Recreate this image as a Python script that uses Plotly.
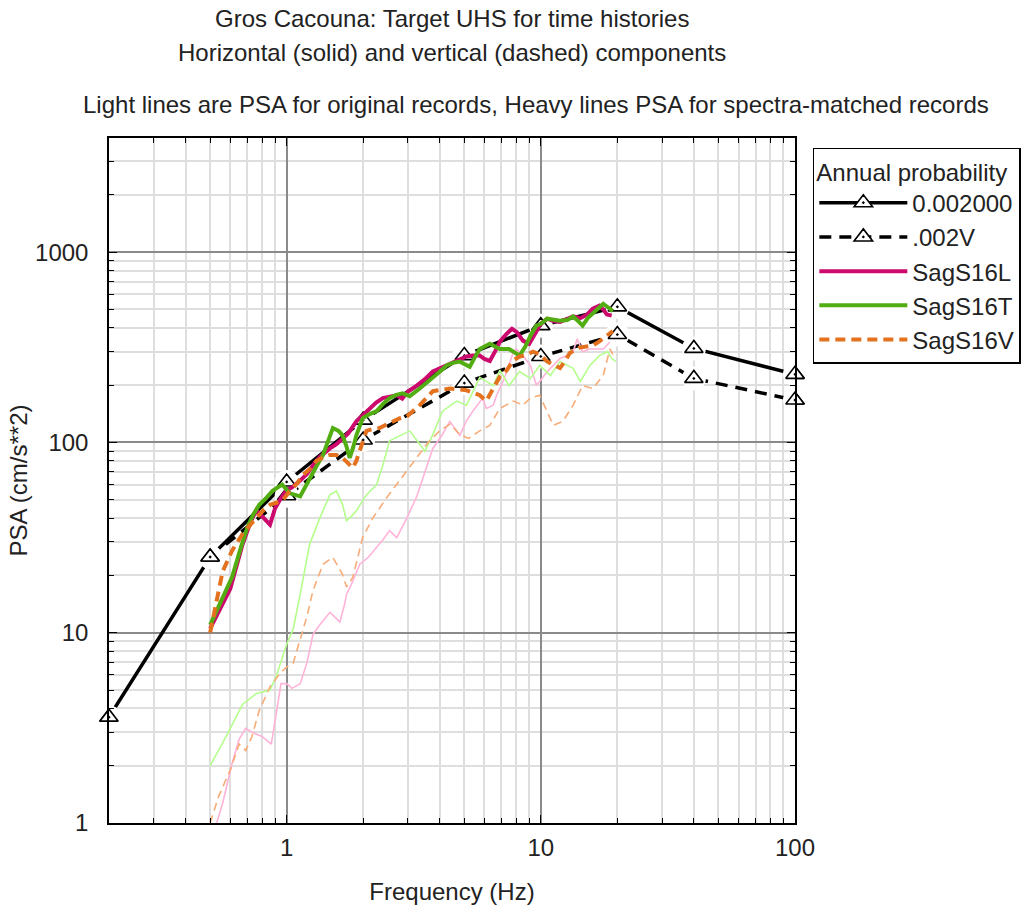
import plotly.graph_objects as go
import math

# ---------------- data ----------------
target_h_freq = [0.2, 0.5, 1, 2, 5, 10, 20, 40, 100]
target_h_psa = [3.6, 25, 62, 131, 286, 411, 516, 312, 228]
target_v_freq = [0.5, 1, 2, 5, 10, 20, 40, 100]
target_v_psa = [25, 52.5, 103, 205, 283, 369, 217, 167]

# heavy (spectra-matched) records
sL_freq = [0.5, 0.55, 0.6, 0.67, 0.72, 0.76, 0.8, 0.83, 0.86, 0.9, 0.95, 1.0, 1.05, 1.13, 1.2,
           1.27, 1.35, 1.48, 1.57, 1.66, 1.75, 1.88, 2.0, 2.12, 2.25, 2.39, 2.55, 2.71, 2.85, 3.0,
           3.25, 3.5, 3.76, 4.0, 4.26, 4.5, 4.8, 5.1, 5.4, 5.75, 6.0, 6.3, 6.6, 6.9, 7.3, 7.7,
           8.05, 8.5, 9.0, 9.5, 10.0, 10.6, 11.2, 11.9, 12.6, 13.4, 14.3, 15.2, 16.0, 17.0, 17.6,
           18.2, 19.0]
sL_psa = [10.5, 13.5, 17, 29, 38, 44, 41, 39, 37, 45, 51, 56, 58, 63, 68,
          76, 84, 93, 98, 105, 112, 129, 140, 151, 162, 171, 174, 177, 170, 185,
          199, 215, 236, 245, 254, 265, 276, 283, 286, 286, 275, 268, 300, 339, 370, 396,
          380, 343, 330, 370, 420, 447, 435, 430, 445, 460, 450, 470, 505, 523, 500,
          470, 464]

sT_freq = [0.5, 0.55, 0.61, 0.66, 0.7, 0.74, 0.78, 0.83, 0.88, 0.96, 1.03, 1.13, 1.23, 1.31,
           1.39, 1.45, 1.52, 1.6, 1.66, 1.72, 1.77, 1.83, 1.88, 1.99, 2.1, 2.26, 2.4, 2.54, 2.7,
           2.86, 3.05, 3.34, 3.55, 3.76, 4.0, 4.26, 4.5, 4.8, 5.25, 5.5, 5.75, 6.3, 6.9, 7.5,
           8.25, 8.7, 9.1, 9.6, 10.0, 10.6, 11.2, 11.9, 12.7, 13.4, 14.0, 14.6, 15.3, 16.0,
           16.8, 17.6, 18.3, 19.2]
sT_psa = [11, 14.5, 19.6, 28, 35.7, 42, 47, 51, 55.7, 60, 54, 52, 65, 75,
          86, 100, 119, 115, 109, 95, 83, 95, 109, 134, 140, 146, 160, 171, 178,
          181, 175, 192, 205, 217, 235, 254, 262, 266, 250, 280, 310, 330, 310, 310,
          286, 320, 364, 411, 420, 447, 440, 436, 440, 459, 435, 411, 450, 475,
          510, 535, 515, 490]

sV_freq = [0.5, 0.53, 0.56, 0.61, 0.67, 0.72, 0.76, 0.81, 0.86, 0.96, 1.03, 1.1, 1.16, 1.24,
           1.31, 1.4, 1.48, 1.57, 1.66, 1.74, 1.82, 1.88, 1.94, 2.0, 2.06, 2.2, 2.32, 2.46, 2.61,
           2.79, 2.97, 3.34, 3.76, 4.1, 4.38, 4.75, 5.1, 5.45, 5.75, 6.1, 6.5, 6.9, 7.35, 7.8,
           8.25, 8.7, 9.3, 9.9, 10.6, 11.2, 11.9, 12.5, 13.0, 14.2, 15.0, 16.0, 17.0, 18.2, 19.2]
sV_psa = [10, 15, 21, 27, 33, 37, 40, 44, 47, 49.4, 55.6, 61, 67.6, 73,
          80, 84, 86, 86, 83, 78, 73.5, 80, 90, 103, 115, 118, 119, 124, 129,
          134, 137, 157, 186, 190, 192, 190, 188, 182, 177, 165, 192, 222, 240, 270,
          283, 286, 300, 290, 266, 255, 246, 270, 295, 315, 320, 323, 340, 364, 385]

# light (original) records
oL_freq = [0.53, 0.56, 0.61, 0.65, 0.69, 0.75, 0.8, 0.87, 0.91, 0.95, 1.0, 1.05, 1.13, 1.2, 1.27,
           1.35, 1.48, 1.62, 1.69, 1.72, 1.8, 1.94, 2.1, 2.26, 2.4, 2.54, 2.71, 2.97, 3.25, 3.5,
           3.76, 4.1, 4.38, 4.8, 5.1, 5.4, 5.9, 6.1, 6.5, 6.7, 7.1, 7.35, 7.8, 8.0, 8.5, 9.1,
           9.6, 9.9, 10.6, 11.2, 11.9, 12.7, 13.4, 13.9, 14.6, 15.6, 16.6, 17.6, 18.7]
oL_psa = [1.0, 1.27, 2.06, 2.75, 3.14, 2.95, 2.85, 2.6, 3.76, 5.4, 5.4, 5.1, 5.4, 6.9, 9.8,
          11, 12.8, 11.4, 14.1, 15.9, 18, 22.9, 25, 28, 31, 34.4, 31.6, 40, 52, 70,
          93, 110, 129, 109, 130, 146, 171, 151, 157, 177, 209, 236, 300, 310, 286, 254,
          200, 209, 236, 254, 276, 286, 300, 350, 300, 310, 310, 310, 337]

oT_freq = [0.5, 0.59, 0.67, 0.76, 0.86, 0.91, 1.0, 1.06, 1.13, 1.23, 1.35, 1.48, 1.57, 1.66,
           1.72, 1.8, 1.88, 2.06, 2.26, 2.39, 2.54, 2.79, 3.05, 3.3, 3.5, 3.76, 4.1, 4.67, 5.1,
           5.75, 6.5, 6.9, 7.5, 8.25, 9.1, 9.9, 10.9, 11.9, 13.4, 14.3, 15.6, 17.0, 18.3, 19.0,
           19.8]
oT_psa = [2.0, 3.0, 4.2, 4.8, 5.0, 5.9, 8.7, 10.4, 15.9, 29, 40, 53, 55.6, 47,
          38.8, 41, 43.8, 53, 60, 76, 102, 109, 115, 100, 90, 110, 146, 165, 157,
          220, 199, 240, 199, 236, 217, 254, 225, 266, 245, 209, 254, 286, 300, 276,
          266]

oV_freq = [0.5, 0.54, 0.6, 0.65, 0.69, 0.73, 0.78, 0.86, 0.94, 1.0, 1.06, 1.13, 1.2, 1.27, 1.39,
           1.52, 1.66, 1.72, 1.82, 1.99, 2.18, 2.47, 2.71, 2.97, 3.3, 3.6, 4.0, 4.4, 4.8, 5.2,
           5.75, 6.3, 6.9, 7.8, 8.5, 9.1, 9.9, 10.6, 11.2, 12.2, 13.4, 14.6, 16.0, 17.6, 18.7,
           19.2]
oV_psa = [1.0, 1.38, 1.9, 2.6, 2.4, 2.85, 3.9, 5.2, 6.1, 6.6, 6.9, 9.2, 12.1, 16.7, 22.9,
          24.9, 20.2, 17.4, 19.5, 31.6, 40, 51, 60, 71, 85, 100, 115, 125, 110, 105,
          115, 123, 151, 165, 157, 171, 177, 146, 123, 129, 157, 199, 192, 225, 310,
          290]

# ---------------- figure ----------------
FONT = "Liberation Sans, Arial, sans-serif"
TXT = "#222222"
FS = 24

fig = go.Figure()

tri = dict(symbol="triangle-up-dot", size=16, color="white", line=dict(color="black", width=1.6))
halo = dict(symbol="circle", size=24, color="white", line=dict(width=0))

# target lines (legend entries), halos, markers
fig.add_trace(go.Scatter(x=target_h_freq, y=target_h_psa, mode="lines+markers", name="0.002000",
                         line=dict(color="black", width=3.5), marker=tri, cliponaxis=False))
fig.add_trace(go.Scatter(x=target_v_freq, y=target_v_psa, mode="lines+markers", name=".002V",
                         line=dict(color="black", width=3.5, dash="12px,8px"), marker=tri,
                         cliponaxis=False))
fig.add_trace(go.Scatter(x=target_h_freq, y=target_h_psa, mode="markers", marker=halo,
                         showlegend=False, hoverinfo="skip", cliponaxis=True))
fig.add_trace(go.Scatter(x=target_v_freq, y=target_v_psa, mode="markers", marker=halo,
                         showlegend=False, hoverinfo="skip", cliponaxis=True))
fig.add_trace(go.Scatter(x=target_h_freq, y=target_h_psa, mode="markers", marker=tri,
                         showlegend=False, hoverinfo="skip", cliponaxis=False))
fig.add_trace(go.Scatter(x=target_v_freq, y=target_v_psa, mode="markers", marker=tri,
                         showlegend=False, hoverinfo="skip", cliponaxis=False))

# original records (light)
fig.add_trace(go.Scatter(x=oL_freq, y=oL_psa, mode="lines", showlegend=False,
                         line=dict(color="#ffb3d9", width=1.6)))
fig.add_trace(go.Scatter(x=oT_freq, y=oT_psa, mode="lines", showlegend=False,
                         line=dict(color="#b4ff8c", width=1.6)))
fig.add_trace(go.Scatter(x=oV_freq, y=oV_psa, mode="lines", showlegend=False,
                         line=dict(color="#f8ac78", width=1.6, dash="8px,5px")))

# matched records (heavy)
fig.add_trace(go.Scatter(x=sL_freq, y=sL_psa, mode="lines", name="SagS16L",
                         line=dict(color="#cc0a6e", width=4)))
fig.add_trace(go.Scatter(x=sT_freq, y=sT_psa, mode="lines", name="SagS16T",
                         line=dict(color="#52ad12", width=4)))
fig.add_trace(go.Scatter(x=sV_freq, y=sV_psa, mode="lines", name="SagS16V",
                         line=dict(color="#e4711e", width=4, dash="10px,6px")))

axis_common = dict(
    type="log", showline=True, linecolor="black", linewidth=1.5, mirror="allticks",
    ticks="inside", ticklen=8, tickcolor="black", tickwidth=1.2,
    showgrid=True, gridcolor="#8a8a8a", gridwidth=1.5, zeroline=False,
    dtick=1, exponentformat="none",
    tickfont=dict(family=FONT, size=FS, color=TXT),
    minor=dict(dtick="D1", ticks="inside", ticklen=5, tickcolor="black", tickwidth=1.2,
               showgrid=True, gridcolor="#dedede", gridwidth=1.5),
)

fig.update_xaxes(range=[math.log10(0.2), 2], **axis_common, ticklabelstandoff=2,
                 title=dict(text="Frequency (Hz)", font=dict(family=FONT, size=FS, color=TXT),
                            standoff=24))
fig.update_yaxes(range=[0, 3.6], **axis_common, ticklabelstandoff=14,
                 title=dict(text="PSA (cm/s**2)", font=dict(family=FONT, size=FS, color=TXT),
                            standoff=1))

title_font = dict(family=FONT, size=FS, color=TXT)
fig.add_annotation(text="Gros Cacouna: Target UHS for time histories", xref="paper", yref="paper",
                   x=0.5, y=1.174, showarrow=False, font=title_font, xanchor="center", yanchor="middle")
fig.add_annotation(text="Horizontal (solid) and vertical (dashed) components", xref="paper", yref="paper",
                   x=0.5, y=1.125, showarrow=False, font=title_font, xanchor="center", yanchor="middle")
fig.add_annotation(text="Light lines are PSA for original records, Heavy lines PSA for spectra-matched records",
                   xref="paper", yref="paper", x=0.623, y=1.049, showarrow=False, font=title_font,
                   xanchor="center", yanchor="middle")

fig.update_layout(
    width=1034, height=913,
    margin=dict(l=109, r=239, t=138, b=86),
    paper_bgcolor="white", plot_bgcolor="white",
    font=dict(family=FONT, size=FS, color=TXT),
    showlegend=True,
    legend=dict(x=1.026, y=0.9855, xanchor="left", yanchor="top",
                bordercolor="black", borderwidth=1.5, bgcolor="white",
                title=dict(text="Annual probability", font=dict(family=FONT, size=FS, color=TXT)),
                font=dict(family=FONT, size=FS, color=TXT),
                itemwidth=88, tracegroupgap=0),
)

fig.write_html("out.html")
